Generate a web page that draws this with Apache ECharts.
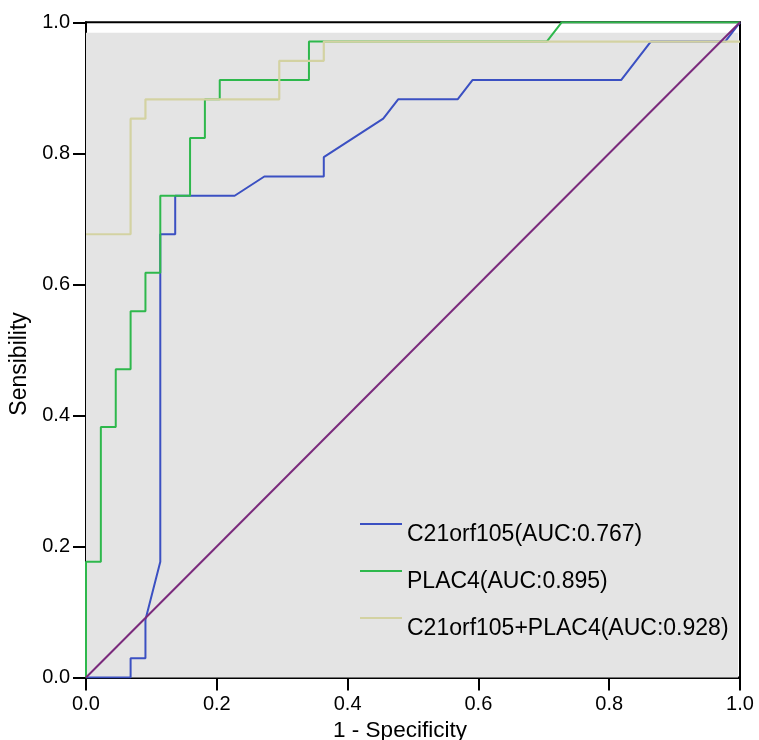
<!DOCTYPE html>
<html>
<head>
<meta charset="utf-8">
<script src="https://cdn.jsdelivr.net/npm/echarts@6/dist/echarts.min.js"></script>
<style>html,body{margin:0;padding:0;background:#fff;}#c{width:759px;height:740px;}</style>
</head>
<body>
<div id="c"></div>
<script>
// ---- data (1 - specificity, sensitivity) ----
var seriesNames = ['C21orf105(AUC:0.767)', 'PLAC4(AUC:0.895)', 'C21orf105+PLAC4(AUC:0.928)'];
var tickValues = [0, 0.2, 0.4, 0.6, 0.8, 1.0];

var c21Points = [
  [0, 0], [0.0682, 0], [0.0682, 0.0294], [0.0909, 0.0294], [0.0909, 0.0882],
  [0.1136, 0.1765], [0.1136, 0.6765], [0.1364, 0.6765], [0.1364, 0.7353],
  [0.2273, 0.7353], [0.2727, 0.7647], [0.3636, 0.7647], [0.3636, 0.7941],
  [0.4545, 0.8529], [0.4773, 0.8824], [0.5682, 0.8824], [0.5909, 0.9118],
  [0.8182, 0.9118], [0.8636, 0.9706], [0.9773, 0.9706], [1, 1]
];
var plac4Points = [
  [0, 0], [0, 0.1765], [0.0227, 0.1765], [0.0227, 0.3824], [0.0455, 0.3824],
  [0.0455, 0.4706], [0.0682, 0.4706], [0.0682, 0.5588], [0.0909, 0.5588],
  [0.0909, 0.6176], [0.1136, 0.6176], [0.1136, 0.7353], [0.1591, 0.7353],
  [0.1591, 0.8235], [0.1818, 0.8235], [0.1818, 0.8824], [0.2045, 0.8824],
  [0.2045, 0.9118], [0.3409, 0.9118], [0.3409, 0.9706], [0.7045, 0.9706],
  [0.7273, 1], [1, 1]
];
var comboPoints = [
  [0, 0.6765], [0.0682, 0.6765], [0.0682, 0.8529], [0.0909, 0.8529],
  [0.0909, 0.8824], [0.2955, 0.8824], [0.2955, 0.9412], [0.3636, 0.9412],
  [0.3636, 0.9706], [1, 0.9706]
];
var refPoints = [[0, 0], [1, 1]];
var bgBox = [[0, -0.016], [0.997, 0.984]];

var colors = { c21: '#3b50c2', plac4: '#2eb84c', combo: '#d3d2a2', ref: '#7a2a7c', bg: '#e4e4e4' };
var font = 'Liberation Sans, Arial, sans-serif';
// legend icon: a thin line drawn at the top of the icon box (tiny invisible point sets the box height)
var legendIcon = 'path://M0,0H42V1.7H0Z M0,20H0.01V20.01H0Z';

var chart = echarts.init(document.getElementById('c'));
chart.setOption({
  animation: false,
  backgroundColor: '#fff',
  grid: { left: 86, right: 19, top: 22.3, bottom: 62.5, outerBoundsMode: 'none', containLabel: false, show: true, borderColor: '#000', borderWidth: 2, backgroundColor: 'transparent' },
  legend: {
    data: seriesNames,
    orient: 'vertical',
    left: 355,
    top: 518,
    itemWidth: 42,
    itemHeight: 24,
    itemGap: 23,
    icon: legendIcon,
    symbolKeepAspect: false,
    itemStyle: { borderWidth: 0 },
    textStyle: { fontFamily: font, fontSize: 23, color: '#000' }
  },
  xAxis: {
    type: 'value', min: 0, max: 1, interval: 0.2,
    name: '1 - Specificity', nameLocation: 'middle', nameGap: 40,
    nameTextStyle: { fontFamily: font, fontSize: 22.5, color: '#000', padding: [0, 26, 0, 0] },
    axisLine: { show: true, lineStyle: { color: '#000', width: 2 } },
    axisTick: { show: true, inside: false, length: 13, lineStyle: { color: '#000', width: 2 } },
    axisLabel: { fontFamily: font, fontSize: 20, color: '#000', margin: 17, formatter: function (v) { return v.toFixed(1); } },
    splitLine: { show: false }
  },
  yAxis: {
    type: 'value', min: 0, max: 1, interval: 0.2,
    name: 'Sensibility', nameLocation: 'middle', nameGap: 55, nameRotate: 90,
    nameTextStyle: { fontFamily: font, fontSize: 23, color: '#000', padding: [0, 28, 0, 0] },
    axisLine: { show: true, lineStyle: { color: '#000', width: 2 } },
    axisTick: { show: true, inside: false, length: 13, lineStyle: { color: '#000', width: 2 } },
    axisLabel: { fontFamily: font, fontSize: 20, color: '#000', margin: 16, formatter: function (v) { return v.toFixed(1); } },
    splitLine: { show: false }
  },
  series: [
    {
      name: 'bg', type: 'line', data: [], z: 1, silent: true, clip: false,
      markArea: {
        silent: true,
        itemStyle: { color: colors.bg },
        data: [[{ coord: bgBox[0] }, { coord: bgBox[1] }]]
      }
    },
    { name: seriesNames[0], type: 'line', data: c21Points, showSymbol: false, z: 3, color: colors.c21, lineStyle: { color: colors.c21, width: 2 } },
    { name: seriesNames[1], type: 'line', data: plac4Points, showSymbol: false, z: 4, color: colors.plac4, lineStyle: { color: colors.plac4, width: 2 } },
    { name: seriesNames[2], type: 'line', data: comboPoints, showSymbol: false, z: 5, color: colors.combo, lineStyle: { color: colors.combo, width: 2.2 } },
    { name: 'ref', type: 'line', data: refPoints, showSymbol: false, z: 6, color: colors.ref, lineStyle: { color: colors.ref, width: 2 } }
  ]
});
</script>
</body>
</html>
